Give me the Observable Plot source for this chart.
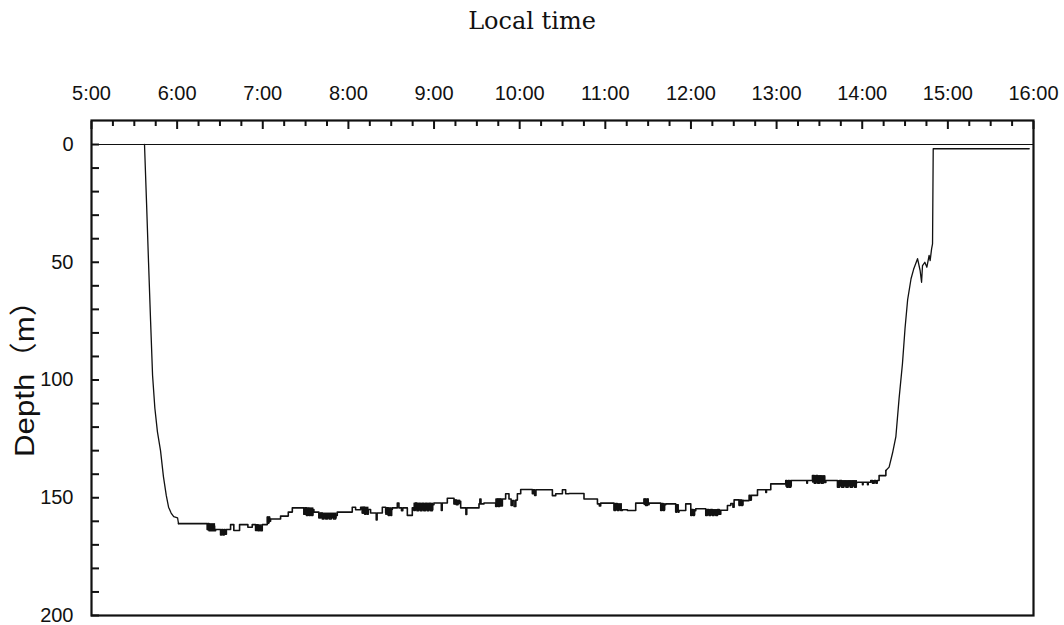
<!DOCTYPE html>
<html><head><meta charset="utf-8">
<script src="https://cdn.jsdelivr.net/npm/d3@7"></script>
<script src="https://cdn.jsdelivr.net/npm/@observablehq/plot@0.6"></script>
<style>
body{margin:0;background:#fff;}
#title{width:1064px;height:45px;line-height:42px;text-align:center;font-family:"DejaVu Serif",serif;font-size:24px;color:#111;}
</style></head><body>
<div id="title">Local time</div>
<div id="chart"></div>
<script>
// Time axis (hours of local time) and depth axis values
const hourTicks = [5, 6, 7, 8, 9, 10, 11, 12, 13, 14, 15, 16];
const quarterTicks = [5.25, 5.5, 5.75, 6.25, 6.5, 6.75, 7.25, 7.5, 7.75, 8.25, 8.5, 8.75, 9.25, 9.5, 9.75, 10.25, 10.5, 10.75, 11.25, 11.5, 11.75, 12.25, 12.5, 12.75, 13.25, 13.5, 13.75, 14.25, 14.5, 14.75, 15.25, 15.5, 15.75];
const depthLabels = [0, 50, 100, 150, 200];
const depthTicks = [0, 10, 20, 30, 40, 50, 60, 70, 80, 90, 100, 110, 120, 130, 140, 150, 160, 170, 180, 190, 200];
const surfaceDepth = [0];

// Dive profile: [hour, depth m]
const descent = [[5.619,0],[5.643,25],[5.666,50],[5.690,75],[5.713,98],[5.740,112],[5.77,122],[5.806,130],[5.84,141],[5.873,149],[5.90,154],[5.93,156.5],[5.96,158],[6.005,158.5],[6.016,161]];

const bottom = [
[6.016,161],
[6.352,163.5],[6.362,161],[6.372,164],[6.382,161.5],[6.392,164],[6.402,162],[6.412,164],[6.425,162],[6.437,164],
[6.449,163.5],
[6.507,165.8],[6.52,163.5],[6.535,165.8],[6.55,163.5],[6.56,165.5],[6.575,163.5],
[6.624,161.4],[6.662,163.9],[6.729,161.4],[6.826,162.5],[6.877,161.4],
[6.916,163.9],[6.93,161.5],[6.945,164],[6.96,162],[6.975,164],
[6.994,161.4],
[7.053,158.2],[7.06,160.8],[7.07,158.2],[7.08,160],
[7.091,159],[7.208,157.8],[7.298,156.1],[7.345,154.3],
[7.48,157],[7.495,154.3],[7.51,157.5],[7.525,154.5],[7.54,157.5],[7.555,155],[7.57,157.5],[7.585,155],
[7.597,156.1],
[7.655,158.5],[7.675,156.5],[7.695,159],[7.715,157],[7.735,159],[7.755,157],[7.775,159],[7.8,157.5],[7.825,159],[7.85,157.5],
[7.87,156.1],
[8.045,154],[8.084,155.1],[8.143,154],
[8.162,156.5],[8.175,154],[8.19,157],[8.205,154.5],[8.22,157],[8.232,155],
[8.259,156.5],[8.325,159.4],[8.335,156.5],
[8.396,154],
[8.435,156.5],[8.45,154.3],[8.465,157.5],[8.48,154.5],[8.495,157.5],[8.505,155],
[8.513,154.3],[8.571,152.2],[8.59,154.3],[8.62,155.5],[8.635,154.3],
[8.688,157.5],[8.746,154.3],
[8.765,155.4],[8.78,152.3],[8.8,155.5],[8.82,152.5],[8.84,155.5],[8.86,152.5],[8.88,155.5],[8.9,152.5],[8.92,155.5],[8.94,152.5],[8.96,155.5],[8.98,153],
[8.999,152.2],[9.085,155.4],[9.095,152.2],
[9.155,150.2],
[9.233,152.6],[9.245,151],[9.26,153],[9.28,151.5],
[9.311,154.3],[9.372,157.1],[9.382,154.3],
[9.525,152.6],[9.535,150.5],[9.548,152.6],
[9.583,152.2],
[9.72,153.7],[9.735,150.5],[9.75,153.7],[9.765,150.5],[9.78,153.5],
[9.798,150.5],[9.836,148.3],[9.875,150.5],[9.9,153.3],[9.915,151.2],[9.935,153.7],[9.955,151],
[9.973,148.3],[10.012,146.5],[10.148,148.3],
[10.16,146.6],[10.175,149],[10.19,146.6],
[10.382,149.1],[10.421,148.3],[10.499,146.6],[10.537,148.3],[10.576,148.2],
[10.751,150.5],[10.908,152.6],[10.93,153.5],[10.946,152.3],
[11.102,155.4],[11.12,152.5],[11.14,155.4],[11.16,153],[11.18,155.4],
[11.2,155.1],[11.258,155.4],[11.355,152.3],
[11.452,150.5],[11.47,153.3],[11.49,150.5],[11.5,153],
[11.511,152.3],
[11.647,155.4],[11.66,152.5],[11.675,155.4],[11.69,153],
[11.706,152.6],
[11.822,156.1],[11.835,153],[11.85,156.1],
[11.861,155.4],[11.939,152.6],
[11.998,157.5],[12.01,155],[12.025,157.5],[12.04,155.5],
[12.056,154.7],
[12.173,157.5],[12.19,155],[12.21,157.5],[12.23,155],[12.25,157.5],[12.27,155.5],[12.29,157.5],[12.31,155],[12.33,157],
[12.348,155.3],[12.426,153.3],[12.465,152.5],[12.49,154],[12.504,150.9],
[12.562,153.3],[12.575,151],[12.59,153.3],[12.605,151.2],
[12.679,149],[12.692,151],[12.705,149],
[12.777,146.6],[12.874,147.8],[12.882,146.6],
[12.932,144.1],
[13.107,142.7],[13.12,145.5],[13.135,142.7],[13.15,145.5],[13.165,142.7],
[13.353,143.8],[13.36,142.7],
[13.419,140.6],[13.44,143.8],[13.46,140.6],[13.48,143.8],[13.5,140.8],[13.52,143.8],[13.545,141],[13.56,143.5],
[13.575,142.7],
[13.711,145.5],[13.735,142.7],[13.76,145.5],[13.785,143],[13.81,145.5],[13.835,143],[13.86,145.5],[13.885,143],[13.91,145.5],[13.93,143.5],
[13.945,143.4],[14.003,144.5],[14.01,143.4],[14.062,144.5],[14.07,143.4],
[14.1,142.7],[14.12,143.8],[14.14,142.7],[14.16,143.8],[14.175,142.7],
[14.197,140.6],[14.276,138.4]
];

// Bursts of rapid depth oscillation (drawn solid): [start hour, end hour, shallow m, deep m]
const bursts = [
[6.352,6.449,161,164],[6.916,6.994,161.5,164],[7.053,7.091,158.2,160.8],
[7.48,7.597,154.3,157.5],[7.655,7.87,156.5,159],[8.162,8.24,154,157],
[8.435,8.513,154.3,157.5],[8.765,8.999,152.3,155.5],[9.233,9.311,151,153],
[9.72,9.798,150.5,153.7],[11.102,11.2,152.5,155.4],[11.452,11.511,150.5,153.3],
[11.647,11.706,152.5,155.4],[11.822,11.861,153,156.1],[11.998,12.056,155,157.5],
[12.173,12.348,155,157.5],[12.562,12.62,151,153.3],[13.107,13.186,142.7,145.5],
[13.419,13.575,140.6,143.8],[13.711,13.945,142.7,145.5],[14.1,14.175,142.7,143.8]
];

const ascent = [[14.276,138.4],[14.314,137],[14.354,131],[14.393,124],[14.43,108],[14.47,93],[14.5,78],[14.53,66],[14.57,57],[14.6,53],[14.646,48.5],[14.676,53.5],[14.693,58.5],[14.704,51.4],[14.731,50],[14.755,52.1],[14.781,47.1],[14.793,49.3],[14.81,44.3],[14.821,42.2],[14.829,1.8],[15.95,1.8]];

const yLabel = ["Depth\uFF08m\uFF09"];

const chart = Plot.plot({
  width: 1064,
  height: 580,
  marginTop: 75,
  marginBottom: 10,
  marginLeft: 91,
  marginRight: 31,
  style: {fontFamily: "Liberation Sans, Arial, sans-serif", fontSize: "20px", background: "#fff", color: "#111"},
  x: {domain: [5, 16]},
  y: {domain: [-10.2, 200], reverse: true},
  marks: [
    Plot.ruleY(surfaceDepth, {stroke: "#111", strokeWidth: 1.2}),
    Plot.line(descent, {x: d => d[0], y: d => d[1], stroke: "#111", strokeWidth: 1.3}),
    Plot.line(bottom, {x: d => d[0], y: d => d[1], curve: "step-after", stroke: "#111", strokeWidth: 1.6}),
    Plot.rect(bursts, {x1: d => d[0], x2: d => d[1], y1: d => d[2], y2: d => d[3], fill: "#111"}),
    Plot.line(ascent, {x: d => d[0], y: d => d[1], stroke: "#111", strokeWidth: 1.3}),
    Plot.axisX(hourTicks, {anchor: "top", tickSize: 0, tickPadding: 21, tickFormat: d => `${d}:00`, label: null, fontSize: 20}),
    Plot.axisX(hourTicks, {anchor: "top", tickSize: -8, strokeWidth: 2, tickFormat: () => "", label: null}),
    Plot.axisX(quarterTicks, {anchor: "top", tickSize: -5, strokeWidth: 2, tickFormat: () => "", label: null}),
    Plot.axisY(depthLabels, {anchor: "left", tickSize: 0, tickPadding: 18, label: null, fontSize: 20}),
    Plot.axisY(depthTicks, {anchor: "left", tickSize: -8, strokeWidth: 2, tickFormat: () => "", label: null}),
    Plot.frame({stroke: "#111", strokeWidth: 2.2}),
    Plot.text(yLabel, {text: d => d, frameAnchor: "left", textAnchor: "middle", rotate: -90, dx: -66, dy: 3, fontSize: 28, fontFamily: "Liberation Sans, Noto Sans CJK JP, sans-serif", fill: "#111"})
  ]
});
// stretch the axis title to the reference's length
chart.querySelectorAll("text").forEach(t => {
  if (t.textContent === yLabel[0]) { t.setAttribute("textLength", 172); t.setAttribute("lengthAdjust", "spacingAndGlyphs"); }
});
document.getElementById("chart").appendChild(chart);
</script>
</body></html>
